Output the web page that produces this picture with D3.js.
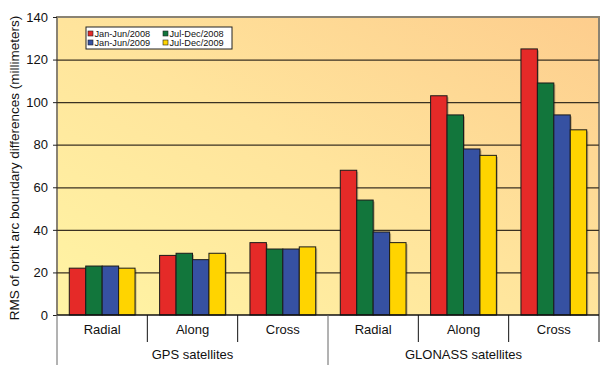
<!DOCTYPE html>
<html>
<head>
<meta charset="utf-8">
<script src="https://cdn.jsdelivr.net/npm/d3@7"></script>
<style>
  body { margin: 0; background: #fff; }
  text { font-family: "Liberation Sans", Arial, sans-serif; fill: #111; }
</style>
</head>
<body>
<svg id="chart" width="604" height="365"></svg>
<script>
const categories = ['Radial', 'Along', 'Cross', 'Radial', 'Along', 'Cross'];
const groups = ['GPS satellites', 'GLONASS satellites'];
const seriesNames = ['Jan-Jun/2008', 'Jul-Dec/2008', 'Jan-Jun/2009', 'Jul-Dec/2009'];
const seriesColors = ['#e52a28', '#12763c', '#3651a2', '#ffd400'];
const janJun2008 = [22, 28, 34, 68, 103, 125];
const julDec2008 = [23, 29, 31, 54, 94, 109];
const janJun2009 = [23, 26, 31, 39, 78, 94];
const julDec2009 = [22, 29, 32, 34, 75, 87];
const yTicks = [0, 20, 40, 60, 80, 100, 120, 140];

const series = [janJun2008, julDec2008, janJun2009, julDec2009];
const svg = d3.select('#chart');
const margin = { left: 57, right: 5, top: 17, bottom: 50 };
const width = 604 - margin.left - margin.right;
const height = 365 - margin.top - margin.bottom;

const defs = svg.append('defs');
const grad = defs.append('linearGradient')
  .attr('id', 'bg')
  .attr('x1', '0%').attr('y1', '100%')
  .attr('x2', '100%').attr('y2', '0%');
grad.append('stop').attr('offset', '0%').attr('stop-color', '#fff4a4');
grad.append('stop').attr('offset', '50%').attr('stop-color', '#ffe49c');
grad.append('stop').attr('offset', '100%').attr('stop-color', '#fdcd8d');

const g = svg.append('g').attr('transform', `translate(${margin.left},${margin.top})`);

const x0 = d3.scaleBand().domain(d3.range(categories.length)).range([0, width]).padding(0);
const gap = x0.bandwidth() * 0.136;
const x1 = d3.scaleBand().domain(d3.range(series.length)).range([gap, x0.bandwidth() - gap]);
const y = d3.scaleLinear().domain([0, 140]).range([height, 0]);

// plot background with border
g.append('rect')
  .attr('width', width).attr('height', height)
  .attr('fill', 'url(#bg)');
g.append('path')
  .attr('d', `M0,${height}V0H${width}V${height}`)
  .attr('fill', 'none').attr('stroke', '#8a8373').attr('stroke-width', 2);

// grid lines
g.selectAll('.grid')
  .data(yTicks.filter(t => t > 0 && t < 140))
  .enter().append('line')
  .attr('x1', 0).attr('x2', width)
  .attr('y1', d => y(d) + 0.5).attr('y2', d => y(d) + 0.5)
  .attr('stroke', '#3a3122').attr('stroke-width', 1.3);

// bars
const catG = g.selectAll('.cat')
  .data(categories.map((c, i) => i))
  .enter().append('g')
  .attr('transform', i => `translate(${x0(i)},0)`);

catG.selectAll('.shadow')
  .data(i => series.map((s, k) => ({ k, v: s[i] })))
  .enter().append('rect')
  .attr('x', d => x1(d.k) + 1.5)
  .attr('y', d => y(d.v) + 1.5)
  .attr('width', x1.bandwidth())
  .attr('height', d => height - y(d.v) - 1.5)
  .attr('fill', 'rgba(0,0,0,0.25)');

catG.selectAll('.bar')
  .data(i => series.map((s, k) => ({ k, v: s[i] })))
  .enter().append('rect')
  .attr('x', d => x1(d.k))
  .attr('y', d => y(d.v))
  .attr('width', x1.bandwidth())
  .attr('height', d => height - y(d.v))
  .attr('fill', d => seriesColors[d.k])
  .attr('stroke', '#1a1a1a').attr('stroke-width', 1);

// y axis
const yAxis = g.append('g')
  .call(d3.axisLeft(y).tickValues(yTicks).tickSize(4).tickSizeOuter(0));
yAxis.select('.domain').remove();
yAxis.selectAll('line').attr('stroke', '#222');
yAxis.selectAll('text').attr('font-size', 13).attr('dx', -2)
  .style('font-family', '"Liberation Sans", Arial, sans-serif');

// y title
svg.append('text')
  .attr('transform', `translate(19,${margin.top + height / 2 + 2}) rotate(-90)`)
  .attr('text-anchor', 'middle')
  .attr('font-size', 13.5)
  .text('RMS of orbit arc boundary differences (millimeters)');

// x axis: baseline and category rows
const ax = g.append('g').attr('transform', `translate(0,${height})`);
ax.append('line').attr('x1', 0).attr('x2', width).attr('stroke', '#111').attr('stroke-width', 1.5);
ax.append('line').attr('x1', 0).attr('x2', 0).attr('y1', 0).attr('y2', 50).attr('stroke', '#666');
ax.selectAll('.sep')
  .data(d3.range(1, categories.length + 1))
  .enter().append('line')
  .attr('x1', i => x0(i) !== undefined ? x0(i) : width)
  .attr('x2', i => x0(i) !== undefined ? x0(i) : width)
  .attr('y1', 0)
  .attr('y2', i => (i === 3 ? 50 : 27))
  .attr('stroke', i => (i === 3 ? '#666' : '#111'));
ax.selectAll('.catlabel')
  .data(categories)
  .enter().append('text')
  .attr('x', (d, i) => x0(i) + x0.bandwidth() / 2)
  .attr('y', 19)
  .attr('text-anchor', 'middle')
  .attr('font-size', 13)
  .text(d => d);
ax.selectAll('.grplabel')
  .data(groups)
  .enter().append('text')
  .attr('x', (d, i) => x0(i * 3) + x0.bandwidth() * 1.5)
  .attr('y', 44)
  .attr('text-anchor', 'middle')
  .attr('font-size', 13)
  .text(d => d);

// legend
const lg = svg.append('g').attr('transform', 'translate(86,27)');
lg.append('rect').attr('width', 146).attr('height', 22)
  .attr('fill', '#fff').attr('stroke', '#222').attr('stroke-width', 1);
seriesNames.forEach((name, k) => {
  const col = k % 2, row = Math.floor(k / 2);
  const it = lg.append('g').attr('transform', `translate(${2 + col * 75},${4 + row * 9})`);
  it.append('rect').attr('width', 5).attr('height', 5)
    .attr('fill', seriesColors[k]).attr('stroke', '#222').attr('stroke-width', 0.6);
  it.append('text').attr('x', 6.5).attr('y', 6).attr('font-size', 9.2).text(name);
});
</script>
</body>
</html>
